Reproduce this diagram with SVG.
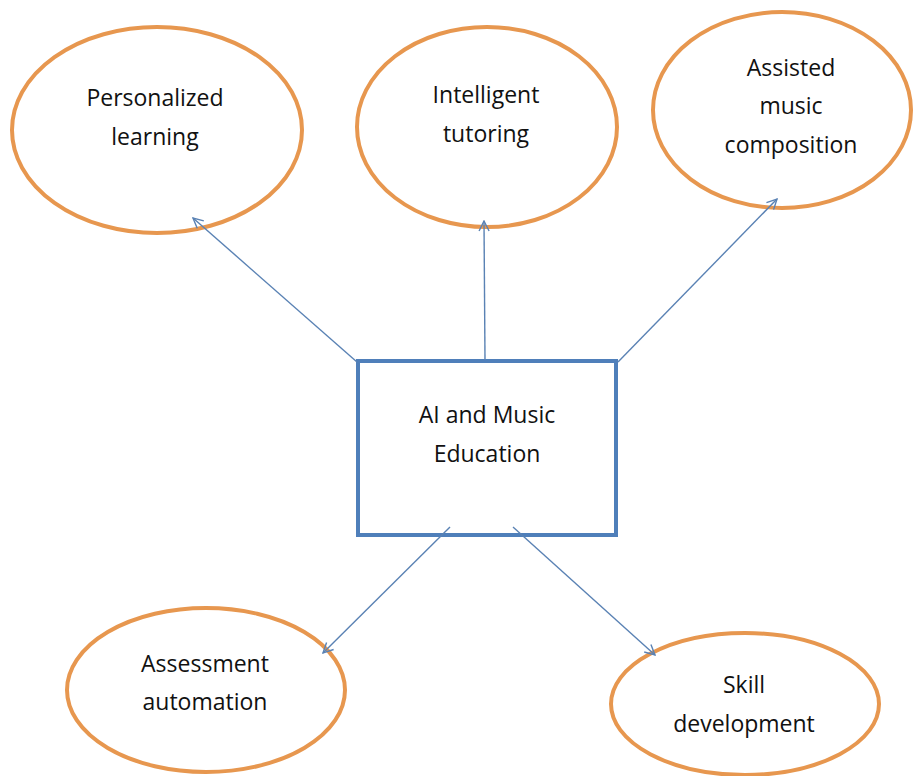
<svg xmlns="http://www.w3.org/2000/svg" width="915" height="776" viewBox="0 0 915 776">
<style>
.ell{fill:#fff;stroke:#E7974F;stroke-width:4}
.box{fill:#fff;stroke:#4F7FBA;stroke-width:4}
.lbl{font-family:"Open Sans","Noto Sans",sans-serif;font-size:23px;fill:#111;text-anchor:middle}
.conn{stroke:#5A82B4;stroke-width:1.4;fill:none;marker-end:url(#arr)}
</style>
<defs>
<marker id="arr" viewBox="0 0 12 12" refX="11" refY="6" markerWidth="12" markerHeight="12" markerUnits="userSpaceOnUse" orient="auto">
<path d="M1,1 L11,6 L1,11" fill="none" stroke="#5A82B4" stroke-width="1.4"/>
</marker>
</defs>
<rect width="915" height="776" fill="#fff"/>
<g id="n1"><ellipse class="ell" cx="157" cy="130" rx="145" ry="103"/>
<text class="lbl" x="155" y="106">Personalized</text><text class="lbl" x="155" y="145">learning</text></g>
<g id="n2"><ellipse class="ell" cx="487" cy="127" rx="130" ry="100"/>
<text class="lbl" x="486" y="103">Intelligent</text><text class="lbl" x="486" y="142">tutoring</text></g>
<g id="n3"><ellipse class="ell" cx="782" cy="110" rx="129" ry="98"/>
<text class="lbl" x="791" y="76">Assisted</text><text class="lbl" x="791" y="114">music</text><text class="lbl" x="791" y="153">composition</text></g>
<g id="center"><rect class="box" x="358" y="361" width="258" height="174"/>
<text class="lbl" x="487" y="423">AI and Music</text><text class="lbl" x="487" y="462">Education</text></g>
<g id="n4"><ellipse class="ell" cx="206" cy="690" rx="139" ry="82"/>
<text class="lbl" x="205" y="672">Assessment</text><text class="lbl" x="205" y="710">automation</text></g>
<g id="n5"><ellipse class="ell" cx="745" cy="704" rx="134" ry="71"/>
<text class="lbl" x="744" y="693">Skill</text><text class="lbl" x="744" y="732">development</text></g>
<g id="connectors">
<line class="conn" x1="357" y1="362" x2="193" y2="218"/>
<line class="conn" x1="485" y1="360" x2="484" y2="221"/>
<line class="conn" x1="618" y1="362" x2="777" y2="199"/>
<line class="conn" x1="450" y1="527" x2="323" y2="653"/>
<line class="conn" x1="513" y1="527" x2="655" y2="655"/>
</g>
</svg>
